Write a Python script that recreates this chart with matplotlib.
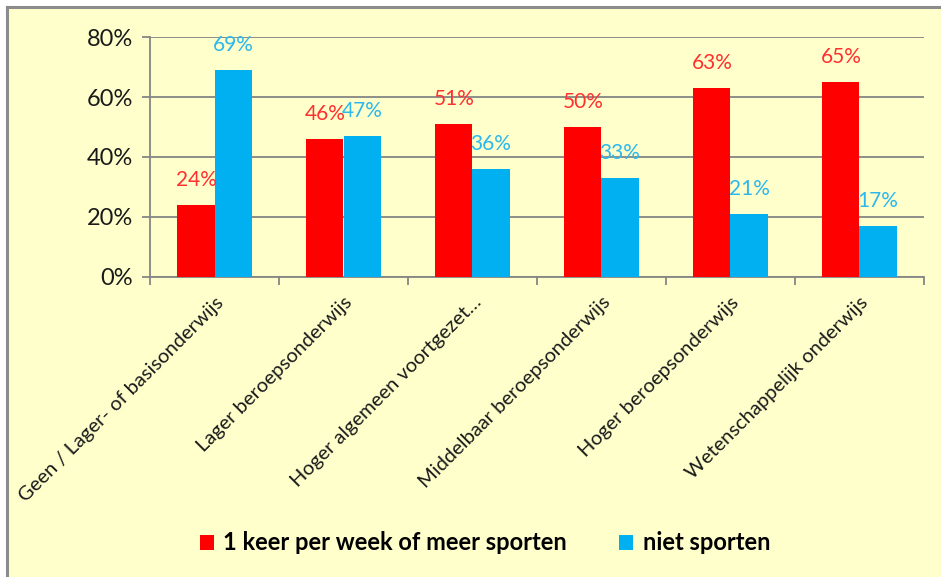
import numpy as np
import matplotlib.pyplot as plt
from matplotlib.patches import Rectangle
from matplotlib.ticker import PercentFormatter

# DATA #
categories = [
    'Geen / Lager- of basisonderwijs',
    'Lager beroepsonderwijs',
    'Hoger algemeen voortgezet…',
    'Middelbaar beroepsonderwijs',
    'Hoger beroepsonderwijs',
    'Wetenschappelijk onderwijs',
]
sporten = [24, 46, 51, 50, 63, 65]
niet_sporten = [69, 47, 36, 33, 21, 17]
series_names = ['1 keer per week of meer sporten', 'niet sporten']

# STYLE #
bg = '#FFFFCC'
red = '#FF0000'
blue = '#00B0F0'
grid_col = '#868686'
plt.rcParams['font.family'] = ['Lato', 'DejaVu Sans']

fig = plt.figure(figsize=(9.41, 5.77), dpi=100)
fig.patch.set_facecolor('white')
# chart area background with grey border on top and left
fig.patches.append(Rectangle((7 / 941, -0.01), 1.0, 1 - 7 / 577 + 0.01,
                             transform=fig.transFigure, facecolor=bg,
                             edgecolor='none', zorder=-2))
fig.add_artist(plt.Line2D([7 / 941, 1], [1 - 7 / 577] * 2, color='#8C8C8C',
                          lw=2.2, transform=fig.transFigure))
fig.add_artist(plt.Line2D([7 / 941] * 2, [0, 1 - 7 / 577], color='#8C8C8C',
                          lw=2.2, transform=fig.transFigure))

ax = fig.add_axes([150 / 941, 1 - 277 / 577, 774 / 941, 240 / 577])
ax.set_facecolor(bg)

x = np.arange(len(categories))
w = 0.287
b1 = ax.bar(x - w / 2, sporten, w, color=red, label=series_names[0], zorder=3)
b2 = ax.bar(x + w / 2, niet_sporten, w, color=blue, label=series_names[1], zorder=3)

for bars, vals, col in [(b1, sporten, '#FF3030'), (b2, niet_sporten, '#2CB8EC')]:
    for bar, v in zip(bars, vals):
        ax.annotate(f'{v}%', (bar.get_x() + bar.get_width() / 2, v),
                    xytext=(0, 11), textcoords='offset points',
                    ha='center', va='bottom', color=col, fontsize=15, zorder=4)

ax.set_xlim(-0.5, len(categories) - 0.5)
ax.set_ylim(0, 80)
ax.set_yticks(range(0, 81, 20))
ax.yaxis.set_major_formatter(PercentFormatter(decimals=0))
ax.grid(axis='y', color=grid_col, lw=1.3, zorder=0)

ax.set_xticks(x)
ax.set_xticklabels(categories, rotation=45, ha='right', rotation_mode='anchor',
                   fontsize=14.5, color='#1A1A1A')
ax.set_xticks(np.arange(-0.5, len(categories)), minor=True)
ax.tick_params(axis='x', which='major', length=0, pad=12)
ax.tick_params(axis='x', which='minor', length=6, color=grid_col, width=1.3)
ax.tick_params(axis='y', length=6, color=grid_col, width=1.3, labelsize=17,
               labelcolor='#1A1A1A', pad=6)

for s in ['top', 'right']:
    ax.spines[s].set_visible(False)
for s in ['left', 'bottom']:
    ax.spines[s].set_color(grid_col)
    ax.spines[s].set_linewidth(1.3)

leg = fig.legend(loc='center', bbox_to_anchor=(485 / 941, 1 - 543 / 577), ncol=2,
                 frameon=False, prop={'weight': 'bold', 'size': 17},
                 handlelength=0.6, handleheight=0.6, handletextpad=0.4,
                 columnspacing=2.2)

fig.savefig('out.png', dpi=100, facecolor=fig.get_facecolor())
